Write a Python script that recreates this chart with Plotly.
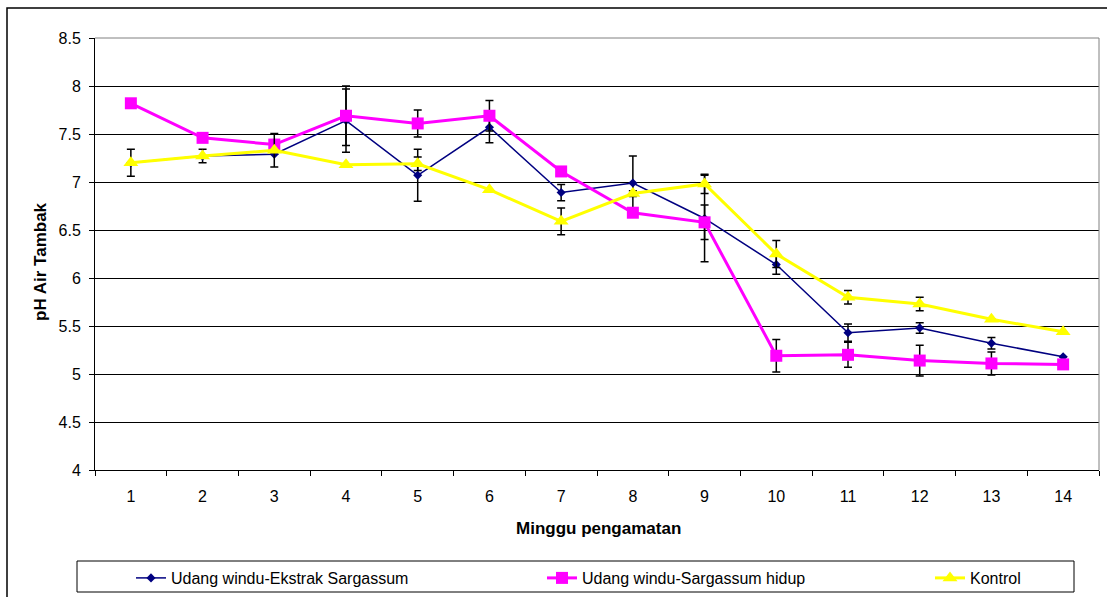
import plotly.graph_objects as go

weeks = [str(i) for i in range(1, 15)]

ekstrak = [7.20, 7.27, 7.29, 7.64, 7.07, 7.57, 6.89, 6.99, 6.62, 6.14, 5.43, 5.48, 5.32, 5.18]
ekstrak_err = [0.14, 0.07, 0.0, 0.33, 0.27, 0.16, 0.085, 0.28, 0.45, 0.10, 0.09, 0.055, 0.06, 0.0]

hidup = [7.82, 7.46, 7.39, 7.69, 7.61, 7.69, 7.11, 6.68, 6.58, 5.19, 5.20, 5.14, 5.11, 5.10]
hidup_err = [0.0, 0.0, 0.0, 0.31, 0.14, 0.16, 0.0, 0.0, 0.18, 0.17, 0.13, 0.16, 0.12, 0.0]

kontrol = [7.20, 7.27, 7.33, 7.18, 7.19, 6.92, 6.59, 6.88, 6.98, 6.25, 5.80, 5.73, 5.57, 5.44]
kontrol_err = [0.0, 0.0, 0.175, 0.0, 0.07, 0.0, 0.14, 0.03, 0.10, 0.14, 0.07, 0.07, 0.0, 0.0]

names = ["Udang windu-Ekstrak Sargassum", "Udang windu-Sargassum hidup", "Kontrol"]
x_title = "Minggu pengamatan"
y_title = "pH Air Tambak"

FONT = "Liberation Sans, Arial, sans-serif"

def err(arr):
    return dict(type="data", array=arr, visible=True, color="black", thickness=1.5, width=4)

fig = go.Figure()
fig.add_trace(go.Scatter(
    x=weeks, y=ekstrak, name=names[0], mode="lines+markers", legend="legend",
    line=dict(color="#000080", width=1.5),
    marker=dict(symbol="diamond", size=7, color="#000080"),
    error_y=err(ekstrak_err)))
fig.add_trace(go.Scatter(
    x=weeks, y=hidup, name=names[1], mode="lines+markers", legend="legend2",
    line=dict(color="#FF00FF", width=3),
    marker=dict(symbol="square", size=12, color="#FF00FF"),
    error_y=err(hidup_err)))
fig.add_trace(go.Scatter(
    x=weeks, y=kontrol, name=names[2], mode="lines+markers", legend="legend3",
    line=dict(color="#FFFF00", width=3),
    marker=dict(symbol="triangle-up", size=13, color="#FFFF00"),
    error_y=err(kontrol_err)))

L, R, T, B = 95, 8, 38, 127
W, H = 1107, 597
pw, ph = W - L - R, H - T - B

def px(xp):
    return (xp - L) / pw

def py(yp):
    return (H - B - yp) / ph

def leg(xpix):
    return dict(orientation="h", x=px(xpix), xanchor="left", y=py(578), yanchor="middle",
                bgcolor="rgba(0,0,0,0)", borderwidth=0, font=dict(size=16))

fig.update_layout(
    width=W, height=H,
    margin=dict(l=L, r=R, t=T, b=B, autoexpand=False),
    paper_bgcolor="white", plot_bgcolor="white",
    font=dict(family=FONT, size=16, color="black"),
    showlegend=True,
    legend=leg(131), legend2=leg(542), legend3=leg(930),
    xaxis=dict(type="category", categoryorder="array", categoryarray=weeks,
               range=[-0.5, 13.5], showline=True, linecolor="black", linewidth=1,
               ticks="outside", tickson="boundaries", ticklen=5, tickcolor="black",
               showgrid=False, zeroline=False, tickfont=dict(size=16),
               ticklabelstandoff=12, automargin=False),
    yaxis=dict(range=[4, 8.5], dtick=0.5, tick0=4, showline=True, linecolor="black", linewidth=1,
               ticks="outside", ticklen=5, tickcolor="black",
               showgrid=True, gridcolor="black", gridwidth=1, zeroline=False,
               tickfont=dict(size=16), ticklabelstandoff=5, automargin=False),
    annotations=[
        dict(text="<b>" + x_title + "</b>", xref="paper", yref="paper", x=px(598), y=py(528),
             xanchor="center", yanchor="middle", showarrow=False, font=dict(size=17)),
        dict(text="<b>" + y_title + "</b>", xref="paper", yref="paper", x=px(40), y=py(262),
             xanchor="center", yanchor="middle", showarrow=False, textangle=-90, font=dict(size=17)),
    ],
    shapes=[
        dict(type="line", xref="paper", yref="paper", x0=0, x1=1, y0=1, y1=1,
             line=dict(color="#808080", width=1), layer="above"),
        dict(type="line", xref="paper", yref="paper", x0=1, x1=1, y0=0, y1=1,
             line=dict(color="#808080", width=1), layer="above"),
        dict(type="rect", xref="paper", yref="paper", x0=px(77), x1=px(1074), y0=py(592), y1=py(561),
             line=dict(color="black", width=1), fillcolor="rgba(0,0,0,0)", layer="above"),
        dict(type="rect", xref="paper", yref="paper", x0=px(7), x1=px(1130), y0=py(630), y1=py(8),
             line=dict(color="black", width=1.5), fillcolor="rgba(0,0,0,0)", layer="above"),
    ],
)

fig.write_html("out.html", config={"displayModeBar": False},
               post_script="document.body.style.margin='0px';document.body.style.overflow='hidden';")
